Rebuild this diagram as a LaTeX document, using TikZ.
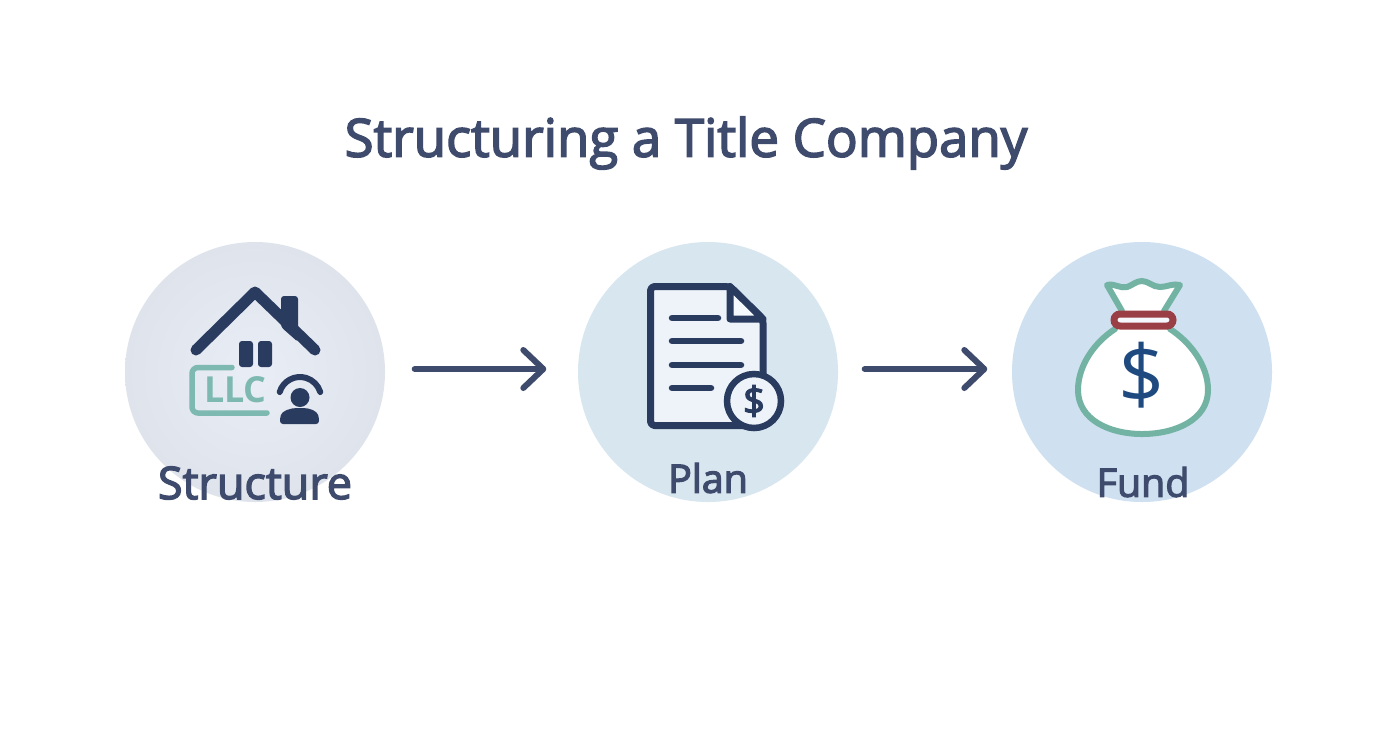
\documentclass[tikz,border=0pt]{standalone}
\usepackage{fontspec}
\setmainfont{Open Sans}
\newfontfamily\mediumfont[FakeBold=3]{Open Sans}
\usetikzlibrary{arrows.meta}

\definecolor{inkblue}{HTML}{3F4B6C}
\definecolor{navy}{HTML}{2A3B60}
\definecolor{tealline}{HTML}{72B3A3}
\definecolor{llcteal}{HTML}{7DB9B0}
\definecolor{tiered}{HTML}{9A3F45}
\definecolor{paper}{HTML}{EEF3FA}
\definecolor{discglow}{HTML}{E9EDF5}
\definecolor{discone}{HTML}{DFE4EC}
\definecolor{disctwo}{HTML}{D8E6F0}
\definecolor{discthree}{HTML}{CFE0F0}
\definecolor{dollarblue}{HTML}{1F4A80}

\tikzset{
    stepdisc/.style={circle, minimum size=2.60cm, inner sep=0pt},
    steplabel/.style={text=inkblue, font=\mediumfont\fontsize{11.2}{14}\selectfont},
    flowarrow/.style={line width=0.06cm, draw=inkblue, line cap=round,
        -{Straight Barb[length=0.2cm, width=0.38cm, round]}},
    navyline/.style={line width=0.07cm, draw=navy, line cap=round, line join=round},
    bagline/.style={line width=0.06cm, draw=tealline, line cap=round, line join=round}
}

\begin{document}
\begin{tikzpicture}
\useasboundingbox (0.0, 0.0) rectangle (13.92, 7.52);
\fill[white] (0.0, 0.0) rectangle (13.92, 7.52);

\node[text=inkblue, font=\mediumfont\fontsize{15}{18}\selectfont] (title) at (6.86, 6.09) {Structuring a Title Company};

\node[stepdisc, inner color=discglow, outer color=discone] (structure) at (2.55, 3.80) {};
\node[stepdisc, fill=disctwo] (plan) at (7.08, 3.80) {};
\node[stepdisc, fill=discthree] (fund) at (11.42, 3.80) {};

\draw[flowarrow]
    ([xshift=0.29cm, yshift=0.03cm]structure.east) -- ([xshift=-0.31cm, yshift=0.03cm]plan.west);
\draw[flowarrow]
    ([xshift=0.26cm, yshift=0.03cm]plan.east) -- ([xshift=-0.24cm, yshift=0.03cm]fund.west);

\fill[navy, rounded corners=0.03cm]
    (2.81, 4.25) -- (2.81, 4.56) -- (2.98, 4.56) -- (2.98, 4.10) -- cycle;
\draw[navyline, line width=0.11cm]
    (1.96, 4.02) -- (2.55, 4.60) -- (3.15, 4.02);
\fill[navy, rounded corners=0.03cm]
    (2.39, 3.85) rectangle (2.53, 4.11);
\fill[navy, rounded corners=0.03cm]
    (2.58, 3.85) rectangle (2.72, 4.11);

\draw[line width=0.055cm, draw=llcteal, line cap=round, rounded corners=0.06cm]
    (2.32, 3.845) -- (1.92, 3.845) -- (1.92, 3.39) -- (2.67, 3.39);
\node[text=llcteal, font=\fontsize{10.2}{12}\selectfont\bfseries, inner sep=0pt] (llc) at (2.355, 3.62) {LLC};

\draw[line width=0.06cm, draw=navy, line cap=round]
    (2.797, 3.60) arc[start angle=163, end angle=17, radius=0.212];
\fill[navy]
    (3.00, 3.545) circle (0.095);
\fill[navy, rounded corners=0.03cm]
    (2.80, 3.28) -- (2.80, 3.34) .. controls (2.82, 3.41) and (2.90, 3.44) .. (3.00, 3.44)
    .. controls (3.10, 3.44) and (3.17, 3.41) .. (3.19, 3.34) -- (3.19, 3.28) -- cycle;

\draw[navyline, fill=paper, rounded corners=0.04cm]
    (6.505, 3.265) -- (6.505, 4.655) -- (7.30, 4.655) -- (7.63, 4.33) -- (7.63, 3.265) -- cycle;
\draw[navyline, fill=paper!60!white]
    (7.30, 4.655) -- (7.30, 4.33) -- (7.63, 4.33) -- cycle;
\draw[navyline, line width=0.065cm]
    (6.72, 4.34) -- (7.18, 4.34);
\draw[navyline, line width=0.065cm]
    (6.72, 4.11) -- (7.41, 4.11);
\draw[navyline, line width=0.065cm]
    (6.72, 3.87) -- (7.41, 3.87);
\draw[navyline, line width=0.065cm]
    (6.72, 3.64) -- (7.11, 3.64);
\node[circle, minimum size=0.54cm, inner sep=0pt, line width=0.065cm, draw=navy, fill=paper,
    text=navy, font=\mediumfont\fontsize{11}{13}\selectfont] (badge) at (7.54, 3.51) {\$};

\draw[bagline, fill=white]
    (11.15, 4.23) .. controls (10.95, 4.10) and (10.78, 3.87) .. (10.78, 3.62)
    .. controls (10.78, 3.32) and (11.10, 3.18) .. (11.42, 3.18)
    .. controls (11.75, 3.18) and (12.08, 3.32) .. (12.08, 3.62)
    .. controls (12.08, 3.87) and (11.90, 4.10) .. (11.70, 4.23);
\draw[bagline, fill=white]
    (11.22, 4.41) -- (11.07, 4.67) .. controls (11.15, 4.69) and (11.20, 4.63) .. (11.27, 4.65)
    .. controls (11.33, 4.67) and (11.36, 4.71) .. (11.42, 4.71)
    .. controls (11.48, 4.71) and (11.53, 4.65) .. (11.60, 4.65)
    .. controls (11.67, 4.65) and (11.73, 4.69) .. (11.80, 4.67) -- (11.64, 4.41);
\draw[line width=0.07cm, draw=tiered, fill=paper!60!white, rounded corners=0.06cm]
    (11.14, 4.26) rectangle (11.73, 4.38);
\node[text=dollarblue, font=\fontsize{23}{27}\selectfont, inner sep=0pt] (dollar) at (11.42, 3.77) {\$};

\node[steplabel, font=\mediumfont\fontsize{12.8}{15}\selectfont] (structurelabel) at (2.55, 2.69) {Structure};
\node[steplabel] (planlabel) at (7.08, 2.74) {Plan};
\node[steplabel] (fundlabel) at (11.43, 2.70) {Fund};
\end{tikzpicture}
\end{document}
